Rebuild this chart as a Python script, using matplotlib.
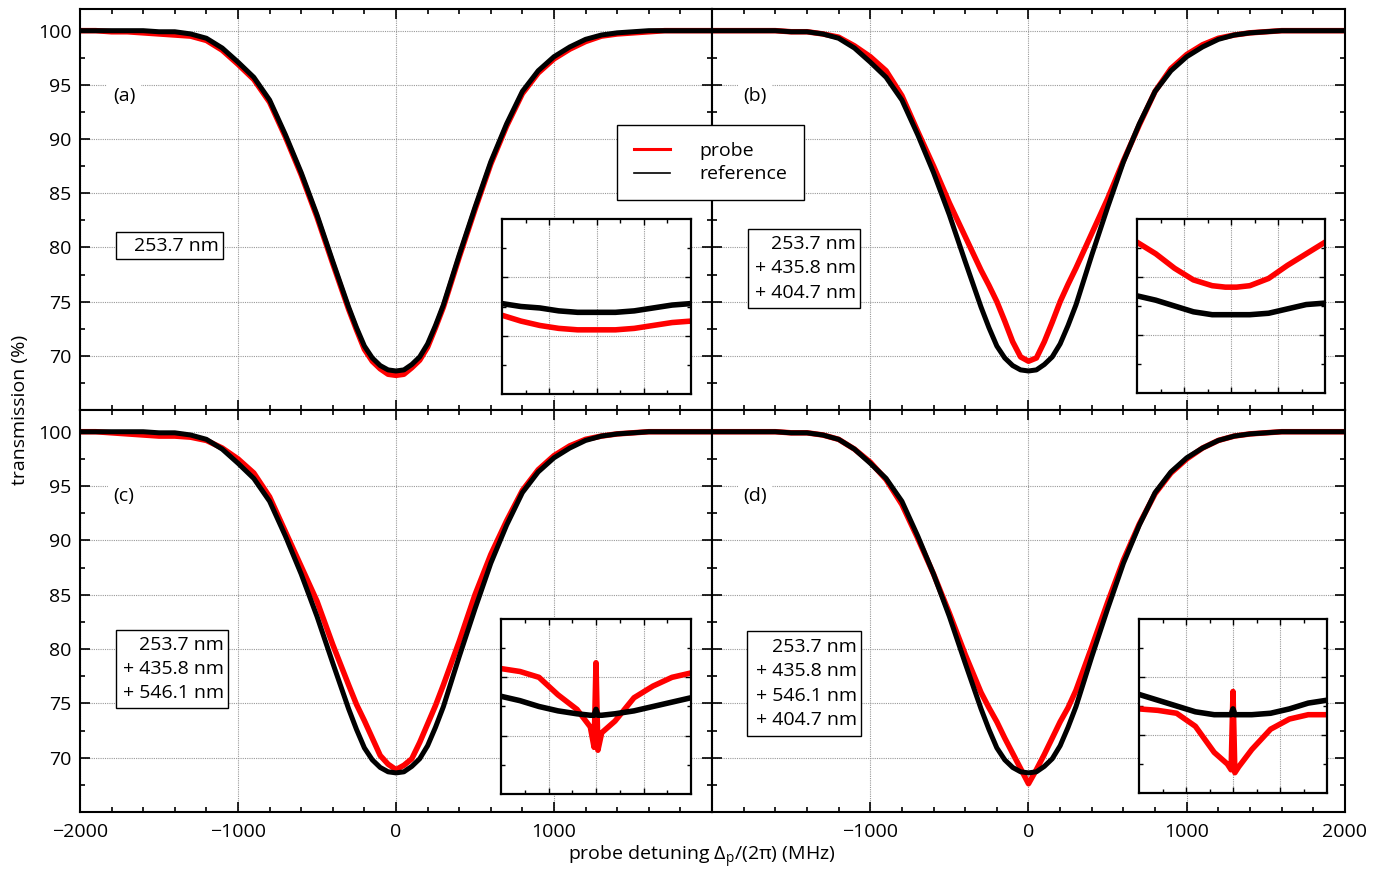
import matplotlib.pyplot as plt
from matplotlib.lines import Line2D
from matplotlib.patches import Rectangle
from matplotlib.ticker import FixedLocator, MultipleLocator

plt.rcParams['font.family'] = ['Open Sans', 'DejaVu Sans']
plt.rcParams['mathtext.default'] = 'regular'

detuning = [-2000, -1900, -1800, -1700, -1600, -1500, -1400, -1300, -1200, -1100,
            -1000, -900, -800, -700, -600, -500, -400,
            -300, -250, -200, -150, -100, -50, 0, 50, 100, 150, 200, 250, 300,
            400, 500, 600, 700, 800, 900, 1000, 1100, 1200, 1300, 1400, 1500,
            1600, 1700, 1800, 1900, 2000]

# transmission (%) of the reference beam (black)
reference = [100.0, 100.0, 100.0, 100.0, 100.0, 99.9, 99.9, 99.7, 99.3, 98.4,
             97.1, 95.7, 93.6, 90.4, 86.9, 83.0, 78.7,
             74.5, 72.6, 70.9, 69.8, 69.1, 68.7, 68.6, 68.7, 69.2, 69.9, 71.1, 72.8, 74.7,
             79.3, 83.7, 87.9, 91.4, 94.4, 96.3, 97.6, 98.5, 99.2, 99.6, 99.8, 99.9,
             100.0, 100.0, 100.0, 100.0, 100.0]

# transmission (%) of the probe beam (red), one list per panel
probe_a = [100.0, 100.0, 99.9, 99.9, 99.8, 99.7, 99.6, 99.5, 99.1, 98.2,
           96.9, 95.5, 93.4, 90.2, 86.7, 82.8, 78.5,
           74.3, 72.4, 70.6, 69.5, 68.8, 68.3, 68.2, 68.3, 68.9, 69.6, 70.8, 72.6, 74.5,
           79.1, 83.5, 87.7, 91.2, 94.2, 96.1, 97.4, 98.3, 99.0, 99.5, 99.7, 99.8,
           99.9, 100.0, 100.0, 100.0, 100.0]
probe_b = [100.0, 100.0, 100.0, 100.0, 100.0, 99.9, 99.9, 99.7, 99.4, 98.6,
           97.6, 96.3, 94.0, 90.7, 87.5, 84.1, 81.0,
           77.9, 76.5, 75.0, 73.2, 71.3, 69.9, 69.5, 69.8, 71.3, 73.1, 75.0, 76.6, 78.1,
           81.3, 84.5, 88.0, 91.3, 94.4, 96.5, 97.8, 98.7, 99.3, 99.6, 99.8, 99.9,
           100.0, 100.0, 100.0, 100.0, 100.0]
probe_c = [100.0, 100.0, 99.9, 99.8, 99.7, 99.6, 99.6, 99.5, 99.2, 98.5,
           97.5, 96.2, 94.0, 90.8, 87.6, 84.4, 80.4,
           76.7, 74.9, 73.4, 71.8, 70.2, 69.4, 68.9, 69.3, 69.9, 71.4, 73.1, 74.8, 76.7,
           80.7, 85.0, 88.7, 91.8, 94.6, 96.5, 97.8, 98.7, 99.3, 99.6, 99.8, 99.9,
           100.0, 100.0, 100.0, 100.0, 100.0]
probe_d = [100.0, 100.0, 100.0, 100.0, 100.0, 99.9, 99.9, 99.7, 99.3, 98.4,
           97.2, 95.6, 93.3, 90.2, 86.9, 83.3, 79.5,
           76.0, 74.6, 73.3, 71.8, 70.4, 69.0, 67.6, 68.9, 70.3, 71.8, 73.3, 74.6, 76.2,
           80.2, 84.3, 88.2, 91.5, 94.3, 96.2, 97.5, 98.5, 99.2, 99.6, 99.8, 99.9,
           100.0, 100.0, 100.0, 100.0, 100.0]

# zoom on the line centre shown in the insets
inset_detuning = [-100, -80, -60, -40, -20, -6, -2, 0, 2, 6, 20, 40, 60, 80, 100]
inset_ref_a = [69.1, 69.0, 68.95, 68.85, 68.8, 68.8, 68.8, 68.8, 68.8, 68.8, 68.8, 68.85, 68.95, 69.05, 69.1]
inset_probe_a = [68.7, 68.5, 68.35, 68.25, 68.2, 68.2, 68.2, 68.2, 68.2, 68.2, 68.2, 68.25, 68.35, 68.45, 68.5]
inset_ref_b = [69.35, 69.2, 69.0, 68.8, 68.7, 68.7, 68.7, 68.7, 68.7, 68.7, 68.7, 68.75, 68.9, 69.05, 69.1]
inset_probe_b = [71.2, 70.8, 70.3, 69.9, 69.7, 69.65, 69.65, 69.65, 69.65, 69.65, 69.7, 69.95, 70.4, 70.8, 71.2]
inset_ref_c = [69.35, 69.2, 69.0, 68.85, 68.75, 68.7, 68.7, 68.9, 68.7, 68.7, 68.75, 68.85, 69.0, 69.15, 69.3]
inset_probe_c = [70.3, 70.2, 70.0, 69.4, 68.9, 68.3, 67.6, 70.5, 67.5, 68.1, 68.5, 69.3, 69.7, 70.0, 70.15]
inset_ref_d = [69.4, 69.2, 69.0, 68.8, 68.7, 68.7, 68.7, 68.9, 68.7, 68.7, 68.7, 68.75, 68.9, 69.1, 69.2]
inset_probe_d = [68.9, 68.85, 68.75, 68.3, 67.4, 67.0, 66.8, 69.5, 66.7, 66.9, 67.5, 68.2, 68.55, 68.7, 68.7]

panel_letters = ['(a)', '(b)', '(c)', '(d)']
wavelengths = [['253.7 nm'],
               ['253.7 nm', '+ 435.8 nm', '+ 404.7 nm'],
               ['253.7 nm', '+ 435.8 nm', '+ 546.1 nm'],
               ['253.7 nm', '+ 435.8 nm', '+ 546.1 nm', '+ 404.7 nm']]

probes = [probe_a, probe_b, probe_c, probe_d]
inset_refs = [inset_ref_a, inset_ref_b, inset_ref_c, inset_ref_d]
inset_probes = [inset_probe_a, inset_probe_b, inset_probe_c, inset_probe_d]

fs = 14

# layout in pixels of the 1377x869 picture
W, H = 1377, 869
panel_px = [(80, 9, 712, 410), (712, 9, 1345, 410), (80, 410, 712, 812), (712, 410, 1345, 812)]
inset_px = [(502, 219, 691, 394), (1137, 219, 1325, 393), (501, 619, 691, 794), (1139, 619, 1327, 793)]
box_px = [(116, 232, 223, 259), (748, 229, 860, 308), (116, 630, 228, 708), (747, 631, 861, 736)]
letter_px = [(124, 96), (755, 96), (124, 496), (755, 496)]


def fig_rect(x0, y0, x1, y1):
    return [x0 / W, 1 - y1 / H, (x1 - x0) / W, (y1 - y0) / H]


fig = plt.figure(figsize=(13.77, 8.69), dpi=100)

for i in range(4):
    ax = fig.add_axes(fig_rect(*panel_px[i]))
    ax.plot(detuning, probes[i], color='red', lw=4, zorder=2)
    ax.plot(detuning, reference, color='black', lw=3.6, zorder=3)
    ax.set_xlim(-2000, 2000)
    ax.set_ylim(65, 102)
    ax.xaxis.set_major_locator(FixedLocator([-2000, -1000, 0, 1000, 2000]))
    ax.xaxis.set_minor_locator(MultipleLocator(200))
    ax.yaxis.set_major_locator(FixedLocator([70, 75, 80, 85, 90, 95, 100]))
    ax.yaxis.set_minor_locator(MultipleLocator(2.5))
    ax.tick_params(which='both', direction='in', top=True, right=True, labelsize=fs, width=1.2)
    ax.tick_params(which='major', length=7)
    ax.tick_params(which='minor', length=3.5)
    ax.tick_params(axis='y', pad=6)
    ax.tick_params(axis='x', pad=8)
    ax.grid(True, which='major', color='#999999', lw=0.8, ls=(0, (1, 1)))
    ax.set_axisbelow(True)
    for s in ax.spines.values():
        s.set_linewidth(1.5)

    if i in (1, 3):
        ax.tick_params(labelleft=False)
    if i in (0, 1):
        ax.tick_params(labelbottom=False)
    elif i == 2:
        ax.set_xticklabels(['\u22122000', '\u22121000', '0', '1000', ''])
    else:
        ax.set_xticklabels(['', '\u22121000', '0', '1000', '2000'])

    # panel letter, blanking the grid line behind it
    lx, ly = letter_px[i]
    ax.text(lx / W, 1 - ly / H, panel_letters[i], transform=fig.transFigure,
            ha='center', va='center', fontsize=fs, zorder=6,
            bbox=dict(facecolor='white', edgecolor='none', pad=4))

    # box listing the wavelengths that were switched on
    x0, y0, x1, y1 = box_px[i]
    ax.add_patch(Rectangle((x0 / W, 1 - y1 / H), (x1 - x0) / W, (y1 - y0) / H,
                           transform=fig.transFigure, facecolor='white',
                           edgecolor='black', lw=1.0, zorder=5, clip_on=False))
    ax.text((x1 - 4) / W, 1 - (y0 + y1) / 2 / H, '\n'.join(wavelengths[i]),
            transform=fig.transFigure, ha='right', va='center', fontsize=fs,
            linespacing=1.43, zorder=6)

# insets around the line centre
for i in range(4):
    ins = fig.add_axes(fig_rect(*inset_px[i]))
    ins.plot(inset_detuning, inset_probes[i], color='red', lw=4, zorder=2)
    ins.plot(inset_detuning, inset_refs[i], color='black', lw=4, zorder=3)
    ins.set_xlim(-100, 100)
    ins.set_ylim(66, 72)
    ins.xaxis.set_major_locator(FixedLocator([-50, 0, 50]))
    ins.xaxis.set_minor_locator(FixedLocator([-75, -25, 25, 75]))
    ins.yaxis.set_major_locator(FixedLocator([68, 70]))
    ins.yaxis.set_minor_locator(FixedLocator([67, 69, 71]))
    ins.tick_params(which='both', direction='in', top=True, right=True,
                    labelbottom=False, labelleft=False, width=1.0)
    ins.tick_params(which='major', length=4)
    ins.tick_params(which='minor', length=3)
    ins.grid(True, which='major', color='#999999', lw=0.8, ls=(0, (1, 1)))
    ins.set_axisbelow(True)
    for s in ins.spines.values():
        s.set_linewidth(1.6)

# legend straddling the two upper panels
handles = [Line2D([], [], color='red', lw=2.2), Line2D([], [], color='black', lw=1.2)]
leg = fig.legend(handles, ['probe', 'reference'], loc='upper left',
                 bbox_to_anchor=(617 / W, 1 - 125 / H), fontsize=fs, frameon=True,
                 fancybox=False, edgecolor='black', framealpha=1, borderpad=0.85,
                 handlelength=1.9, handletextpad=1.5, labelspacing=0.3, borderaxespad=0)
leg.get_frame().set_linewidth(1.0)

fig.text(702 / W, 1 - 857 / H, 'probe detuning \u0394$_{p}$/(2\u03c0) (MHz)',
         ha='center', va='center', fontsize=fs)
fig.text(20 / W, 1 - 410 / H, 'transmission (%)', rotation=90,
         ha='center', va='center', fontsize=fs)

plt.savefig('out.png', dpi=100)
